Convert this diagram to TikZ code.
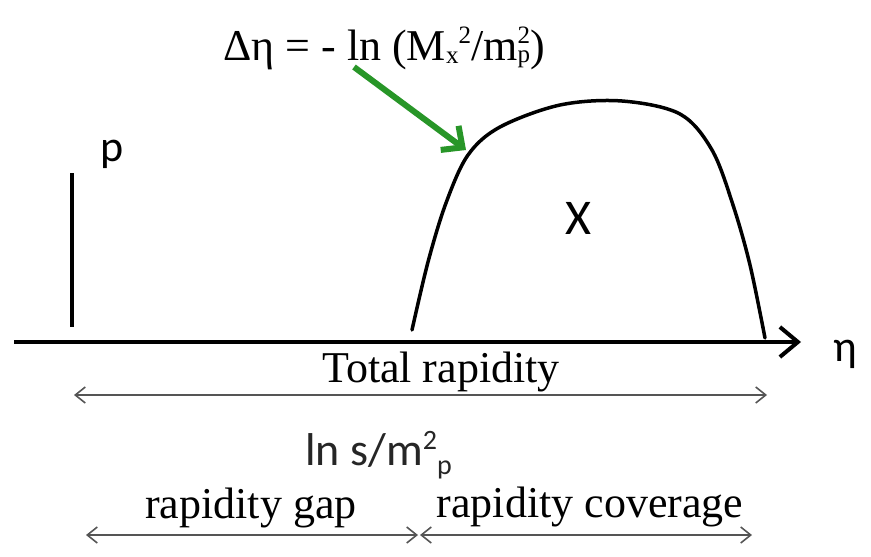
\documentclass[tikz,border=0pt]{standalone}
\usepackage{fontspec}
\setmainfont{Liberation Serif}
\newfontfamily\calfont{Carlito}
\usetikzlibrary{arrows.meta}
\definecolor{arrowgreen}{RGB}{40,150,40}
\definecolor{spangray}{RGB}{85,85,85}
\newcommand{\smallidx}[2]{\raisebox{#1}{\fontsize{25}{28}\selectfont #2}}
\begin{document}
\begin{tikzpicture}[x=1pt,y=-1pt,
  serif/.style={font=\fontsize{44}{50}\selectfont, inner sep=0pt},
  sans/.style={font=\calfont\fontsize{44}{50}\selectfont, inner sep=0pt},
  axisline/.style={line width=4pt, -{Straight Barb[length=18pt,width=30pt,line width=4pt]}},
  curveline/.style={line width=3.5pt, line cap=round, line join=round},
  tickline/.style={line width=4pt},
  span/.style={spangray, line width=1.6pt, {Straight Barb[length=10pt,width=16pt,line width=1.6pt]}-{Straight Barb[length=10pt,width=16pt,line width=1.6pt]}},
  greenarrow/.style={arrowgreen, line width=6pt, -{Straight Barb[length=16pt,width=30pt,line width=6pt]}}
]
\useasboundingbox (0,0) rectangle (871,557);
\fill[white] (0,0) rectangle (871,557);

% axis
\coordinate (axL) at (14,342);
\coordinate (axR) at (801,342);
\draw[axisline] (axL) -- (axR);
\node[sans, anchor=base] (eta) at (845,361) {η};

% proton line
\coordinate (pT) at (72,173);
\coordinate (pB) at (72,327);
\draw[tickline] (pT) -- (pB);
\node[sans, anchor=base] (plabel) at (112,161) {p};

% X bump
\draw[curveline] plot[smooth, tension=0.55] coordinates {(412,330) (428,262) (446,203) (468,155) (500,127) (560,105) (622,101) (680,114) (712,150) (733,205) (750,265) (765,338)};
\node[sans, font=\calfont\fontsize{50}{56}\selectfont] (xlabel) at (578,218) {X};

% formula and green arrow
\node[serif, anchor=base] (formula) at (384,60) {Δη = - ln (M\smallidx{-3pt}{x}\smallidx{17pt}{2}/m\rlap{\smallidx{17pt}{2}}\smallidx{-2pt}{p})};
\coordinate (gS) at (354,67);
\coordinate (gE) at (466,150);
\draw[greenarrow] (gS) -- (gE);

% total rapidity
\node[serif, anchor=base] (total) at (441,382) {Total rapidity};
\coordinate (tL) at (74,395);
\coordinate (tR) at (767,395);
\draw[span] (tL) -- (tR);

% ln s/m^2_p
\node[sans, anchor=base west, font=\calfont\fontsize{46}{52}\selectfont, text=black!85] (lns) at (305,465) {ln s/m\raisebox{16pt}{\fontsize{28}{30}\selectfont 2}\raisebox{-9pt}{\fontsize{28}{30}\selectfont p}};

% gap / coverage
\node[serif, anchor=base] (gap) at (251,518) {rapidity gap};
\node[serif, anchor=base] (cov) at (590,517) {rapidity coverage};
\coordinate (gL) at (86,535);
\coordinate (gR) at (418,535);
\coordinate (cL) at (420,535);
\coordinate (cR) at (752,535);
\draw[span] (gL) -- (gR);
\draw[span] (cL) -- (cR);
\end{tikzpicture}
\end{document}
